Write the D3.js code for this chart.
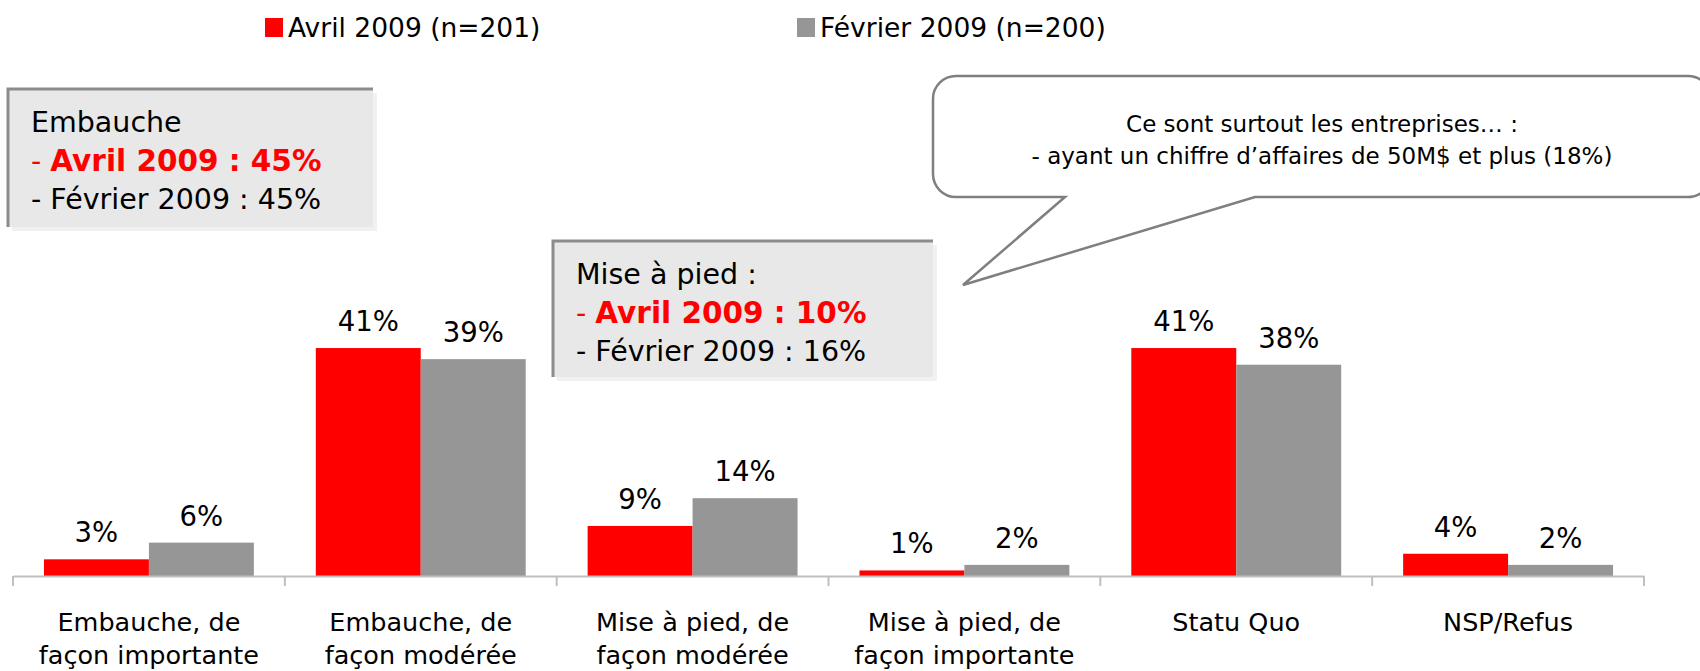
<!DOCTYPE html>
<html lang="fr">
<head>
    <meta charset="UTF-8">
    <title>Embauche / Mise à pied - Avril vs Février 2009</title>
    <script src="https://d3js.org/d3.v7.min.js"></script>
    <style>
        body { margin: 0; background: #fff; }
        svg { display: block; font-family: "DejaVu Sans", Verdana, sans-serif; }
    </style>
</head>
<body>
    <svg width="1700" height="671"></svg>

    <script>
        // données
        const categories = [
            ["Embauche, de", "façon importante"],
            ["Embauche, de", "façon modérée"],
            ["Mise à pied, de", "façon modérée"],
            ["Mise à pied, de", "façon importante"],
            ["Statu Quo"],
            ["NSP/Refus"]
        ];
        const series = ["Avril 2009 (n=201)", "Février 2009 (n=200)"];
        const avril = [3, 41, 9, 1, 41, 4];
        const fevrier = [6, 39, 14, 2, 38, 2];
        const colors = ["#ff0000", "#969696"];

        const dataset = categories.map((c, i) => ({
            id: i,
            label: c,
            values: [
                { serie: series[0], v: avril[i] },
                { serie: series[1], v: fevrier[i] }
            ]
        }));

        const svg = d3.select("svg");

        const axisY = 576;

        const x0 = d3.scaleBand()
                     .domain(dataset.map(d => d.id))
                     .range([13, 1644])
                     .padding(0);

        const x1 = d3.scaleBand()
                     .domain(series)
                     .range([0, x0.bandwidth()])
                     .paddingInner(0)
                     .paddingOuter(0.295);

        const yScale = d3.scaleLinear()
                         .domain([0, 45])
                         .range([axisY, axisY - 45 * 5.56]);

        const colorScale = d3.scaleOrdinal().domain(series).range(colors);

        // barres
        const groups = svg.selectAll(".cat")
            .data(dataset)
            .enter()
            .append("g")
            .attr("class", "cat")
            .attr("transform", d => `translate(${x0(d.id)},0)`);

        groups.selectAll("rect")
            .data(d => d.values)
            .enter()
            .append("rect")
            .attr("x", d => x1(d.serie))
            .attr("y", d => yScale(d.v))
            .attr("width", x1.bandwidth())
            .attr("height", d => axisY - yScale(d.v))
            .attr("fill", d => colorScale(d.serie));

        groups.selectAll(".label")
            .data(d => d.values)
            .enter()
            .append("text")
            .attr("class", "label")
            .attr("x", d => x1(d.serie) + x1.bandwidth() / 2)
            .attr("y", d => yScale(d.v) - 17)
            .attr("text-anchor", "middle")
            .style("font-size", "27.5px")
            .text(d => d.v + "%");

        // axe x
        const xAxis = svg.append("g")
            .attr("transform", `translate(0,${axisY})`)
            .call(d3.axisBottom(x0).tickSize(0).tickFormat(""));
        xAxis.select(".domain").attr("stroke", "#bfbfbf").attr("stroke-width", 2);

        const bounds = x0.domain().map(d => x0(d)).concat([x0.range()[1]]);
        svg.selectAll(".sep")
            .data(bounds)
            .enter()
            .append("line")
            .attr("x1", d => d).attr("x2", d => d)
            .attr("y1", axisY).attr("y2", axisY + 10)
            .attr("stroke", "#bfbfbf")
            .attr("stroke-width", 2);

        svg.selectAll(".catlabel")
            .data(dataset)
            .enter()
            .append("text")
            .attr("class", "catlabel")
            .attr("text-anchor", "middle")
            .style("font-size", "25.5px")
            .each(function(d) {
                const t = d3.select(this);
                d.label.forEach((line, k) => {
                    t.append("tspan")
                     .attr("x", x0(d.id) + x0.bandwidth() / 2)
                     .attr("y", 631 + k * 33)
                     .text(line);
                });
            });

        // légende
        const legendX = [265, 797];
        series.forEach((s, i) => {
            svg.append("rect")
               .attr("x", legendX[i]).attr("y", 18)
               .attr("width", 18).attr("height", 19)
               .attr("fill", colorScale(s));
            svg.append("text")
               .attr("x", legendX[i] + 23).attr("y", 37)
               .style("font-size", "26.5px")
               .text(s);
        });

        // encadrés
        function encadre(x, y, w, h, titre, avrilTxt, fevTxt) {
            const g = svg.append("g");
            g.append("rect").attr("x", x + 4).attr("y", y + 4).attr("width", w).attr("height", h).attr("fill", "#f1f1f1");
            g.append("rect").attr("x", x).attr("y", y).attr("width", w).attr("height", h).attr("fill", "#e8e8e8");
            g.append("path")
             .attr("d", `M${x},${y + h} V${y} H${x + w}`)
             .attr("fill", "none").attr("stroke", "#8c8c8c").attr("stroke-width", 3);
            const t = g.append("text").style("font-size", "28.5px");
            t.append("tspan").attr("x", x + 23).attr("y", y + 43).text(titre);
            const l2 = t.append("tspan").attr("x", x + 23).attr("y", y + 82).attr("fill", "#ff0000");
            l2.text("- ");
            t.append("tspan").attr("fill", "#ff0000").style("font-weight", "bold").style("font-size", "29.5px").text(avrilTxt);
            t.append("tspan").attr("x", x + 23).attr("y", y + 120).text(fevTxt);
        }
        encadre(8, 89, 365, 138, "Embauche", "Avril 2009 : 45%", "- Février 2009 : 45%");
        encadre(553, 241, 380, 136, "Mise à pied :", "Avril 2009 : 10%", "- Février 2009 : 16%");

        // bulle
        const bx0 = 933, bx1 = 1711, by0 = 76, by1 = 197, r = 23;
        svg.append("path")
           .attr("d", `M${bx0 + r},${by0} H${bx1 - r} A${r},${r} 0 0 1 ${bx1},${by0 + r} V${by1 - r}
                       A${r},${r} 0 0 1 ${bx1 - r},${by1} H1255 L963,285 L1065,${by1} H${bx0 + r}
                       A${r},${r} 0 0 1 ${bx0},${by1 - r} V${by0 + r} A${r},${r} 0 0 1 ${bx0 + r},${by0} Z`)
           .attr("fill", "#fff")
           .attr("stroke", "#7f7f7f")
           .attr("stroke-width", 2.5);

        const bulle = svg.append("text")
           .attr("text-anchor", "middle")
           .style("font-size", "23px");
        bulle.append("tspan").attr("x", 1322).attr("y", 132).text("Ce sont surtout les entreprises… :");
        bulle.append("tspan").attr("x", 1322).attr("y", 164).text("- ayant un chiffre d’affaires de 50M$ et plus (18%)");
    </script>
</body>
</html>
